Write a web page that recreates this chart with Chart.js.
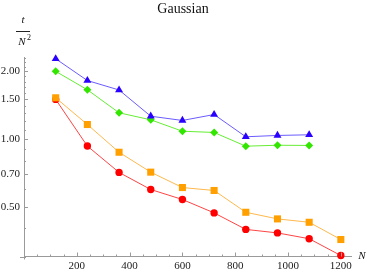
<!DOCTYPE html>
<html>
<head>
<meta charset="utf-8">
<script src="https://cdn.jsdelivr.net/npm/chart.js@4/dist/chart.umd.min.js"></script>
<style>
  html, body { margin: 0; padding: 0; background: #fff; }
  canvas { display: block; }
</style>
</head>
<body>
<canvas id="chart" width="367" height="273"></canvas>
<script>
// valores
const nValues = [120, 240, 360, 480, 600, 720, 840, 960, 1080, 1200];
const redValues = [1.50, 0.93, 0.71, 0.596, 0.538, 0.469, 0.396, 0.382, 0.360, 0.303];
const orangeValues = [1.525, 1.16, 0.873, 0.712, 0.608, 0.590, 0.472, 0.441, 0.426, 0.357];
const greenValues = [2.00, 1.656, 1.308, 1.217, 1.083, 1.069, 0.929, 0.938, 0.936];
const blueValues = [2.275, 1.82, 1.652, 1.263, 1.209, 1.285, 1.023, 1.037, 1.044];

const xMajorTicks = [200, 400, 600, 800, 1000, 1200];
const xMinorTicks = [50, 100, 150, 250, 300, 350, 450, 500, 550, 650, 700, 750, 850, 900, 950, 1050, 1100, 1150];
const yMajorTicks = [0.5, 0.7, 1.0, 1.5, 2.0];
const yMinorTicks = [0.3, 0.4, 0.6, 0.8, 0.9, 1.1, 1.2, 1.3, 1.4, 1.6, 1.7, 1.8, 1.9, 2.1, 2.2, 2.3];

const serif = "'Liberation Serif', 'DejaVu Serif', serif";
const axisColor = "#9a9a9a";

function toPoints(values) {
    return values.map((v, i) => ({ x: nValues[i], y: v }));
}

// eixos no estilo Mathematica: ticks para dentro + textos
const decorPlugin = {
    id: "decor",
    afterDraw(chart) {
        const ctx = chart.ctx;
        const xs = chart.scales.x;
        const ys = chart.scales.y;
        const area = chart.chartArea;
        ctx.save();
        ctx.strokeStyle = axisColor;
        ctx.lineWidth = 1;
        ctx.beginPath();
        // prolongamento dos eixos no cruzamento
        ctx.moveTo(area.left - 4, Math.round(area.bottom) + 0.5);
        ctx.lineTo(area.left, Math.round(area.bottom) + 0.5);
        ctx.moveTo(Math.round(area.left) + 0.5, area.bottom);
        ctx.lineTo(Math.round(area.left) + 0.5, area.bottom + 3);
        xMajorTicks.forEach(v => {
            const px = Math.round(xs.getPixelForValue(v)) + 0.5;
            ctx.moveTo(px, area.bottom);
            ctx.lineTo(px, area.bottom - 4);
        });
        xMinorTicks.forEach(v => {
            const px = Math.round(xs.getPixelForValue(v)) + 0.5;
            ctx.moveTo(px, area.bottom);
            ctx.lineTo(px, area.bottom - 2);
        });
        yMajorTicks.forEach(v => {
            const py = Math.round(ys.getPixelForValue(v)) + 0.5;
            ctx.moveTo(area.left, py);
            ctx.lineTo(area.left + 4, py);
        });
        yMinorTicks.forEach(v => {
            const py = Math.round(ys.getPixelForValue(v)) + 0.5;
            ctx.moveTo(area.left, py);
            ctx.lineTo(area.left + 2, py);
        });
        ctx.stroke();

        // título
        ctx.fillStyle = "#111";
        ctx.textAlign = "center";
        ctx.textBaseline = "middle";
        ctx.font = "14px " + serif;
        ctx.fillText("Gaussian", 183, 9);

        // rótulo do eixo y: t / N²
        ctx.font = "italic 11px " + serif;
        ctx.fillText("t", 23, 20);
        ctx.beginPath();
        ctx.strokeStyle = "#222";
        ctx.moveTo(16, 31.5);
        ctx.lineTo(30, 31.5);
        ctx.stroke();
        ctx.fillText("N", 22, 42);
        ctx.font = "8px " + serif;
        ctx.fillText("2", 29, 38);

        // rótulo do eixo x
        ctx.font = "italic 11px " + serif;
        ctx.fillText("N", 362, 256);
        ctx.restore();
    }
};

function makeDataset(label, values, color, lineColor, style, radius) {
    return {
        label: label,
        data: toPoints(values),
        borderColor: lineColor,
        borderWidth: 1,
        backgroundColor: color,
        pointBackgroundColor: color,
        pointBorderColor: color,
        pointBorderWidth: 0,
        pointStyle: style,
        pointRadius: radius,
        tension: 0,
        clip: false
    };
}

new Chart(document.getElementById("chart").getContext("2d"), {
    type: "line",
    data: {
        datasets: [
            makeDataset("blue", blueValues, "#2a00ff", "#6a5cff", "triangle", 4.6),
            makeDataset("green", greenValues, "#33e600", "#66ee33", "rectRot", 4),
            makeDataset("orange", orangeValues, "#ffa000", "#ffb84d", "rect", 5),
            makeDataset("red", redValues, "#ff0000", "#ff4444", "circle", 3.7)
        ]
    },
    options: {
        responsive: false,
        animation: false,
        devicePixelRatio: 1,
        layout: { padding: { left: 0, right: 15.6, top: 57.7, bottom: 0 } },
        plugins: {
            legend: { display: false },
            tooltip: { enabled: false }
        },
        scales: {
            x: {
                type: "linear",
                min: 0,
                max: 1240,
                grid: { display: false, drawTicks: false },
                border: { display: true, color: axisColor, width: 1 },
                afterBuildTicks: scale => { scale.ticks = xMajorTicks.map(v => ({ value: v })); },
                afterFit: scale => { scale.height = 16.5; },
                ticks: {
                    color: "#222",
                    font: { family: serif, size: 11 },
                    padding: 3,
                    maxRotation: 0,
                    callback: v => String(v)
                }
            },
            y: {
                type: "logarithmic",
                min: 0.3,
                max: 2.3,
                grid: { display: false, drawTicks: false },
                border: { display: true, color: axisColor, width: 1 },
                afterBuildTicks: scale => { scale.ticks = yMajorTicks.map(v => ({ value: v })); },
                afterFit: scale => { scale.width = 24; },
                ticks: {
                    color: "#222",
                    font: { family: serif, size: 11 },
                    padding: 4,
                    callback: v => Number(v).toFixed(2)
                }
            }
        }
    },
    plugins: [decorPlugin]
});
</script>
</body>
</html>
